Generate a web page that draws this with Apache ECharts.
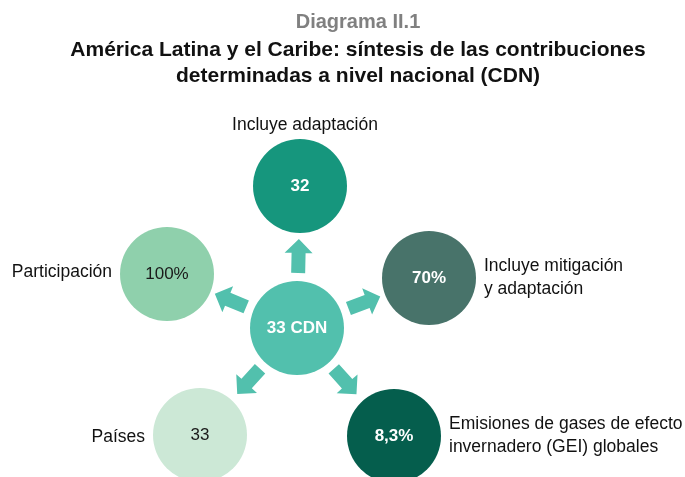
<!DOCTYPE html>
<html>
<head>
<meta charset="utf-8">
<script src="https://cdn.jsdelivr.net/npm/echarts@6/dist/echarts.min.js"></script>
<style>
  html, body { margin: 0; padding: 0; background: #fff; }
  #chart { width: 685px; height: 477px; }
</style>
</head>
<body>
<div id="chart"></div>
<script>
// diagram content
const centerLabel = '33 CDN'
const nodeNames = ['Incluye adaptación', 'Incluye mitigación\ny adaptación', 'Emisiones de gases de efecto\ninvernadero (GEI) globales', 'Países', 'Participación']
const nodeValues = ['32', '70%', '8,3%', '33', '100%']

// layout (pixel space, the axes below map 1:1 to the canvas)
const centerPos = [297, 328]
const nodeX = [300, 429, 394, 200, 167]
const nodeY = [186, 278, 436, 435, 274]
const namePos = ['top', 'right', 'right', 'left', 'left']
const nameOffset = [[5, 6], [0, 0], [0, 0], [0, 2], [0, -2]]
const nodeColors = ['#16967d', '#48736a', '#055e4d', '#cce8d6', '#8fd0ac']
const valueColors = ['#fff', '#fff', '#fff', '#1a1a1a', '#1a1a1a']
const valueBold = [true, true, true, false, false]

const R = 47
const fontFamily = 'Liberation Sans, Arial, sans-serif'

var chart = echarts.init(document.getElementById('chart'))

var circleData = nodeValues.map(function (v, i) {
  return {
    value: [nodeX[i], nodeY[i]],
    itemStyle: { color: nodeColors[i] },
    label: {
      formatter: v,
      color: valueColors[i],
      fontWeight: valueBold[i] ? 'bold' : 'normal'
    }
  }
})
circleData.push({
  value: centerPos,
  itemStyle: { color: '#52c0ad' },
  label: { formatter: centerLabel, color: '#fff', fontWeight: 'bold', fontSize: 17 }
})

var nameData = nodeNames.map(function (n, i) {
  return {
    value: [nodeX[i], nodeY[i]],
    label: { formatter: n, position: namePos[i], offset: nameOffset[i] }
  }
})

var arrowData = nodeX.map(function (x, i) {
  return [centerPos[0], centerPos[1], x, nodeY[i]]
})

chart.setOption({
  animation: false,
  title: [{
    text: 'Diagrama II.1',
    left: 353,
    top: 7,
    textAlign: 'center',
    textStyle: { color: '#808080', fontSize: 20, fontWeight: 'bold', fontFamily: fontFamily }
  }, {
    text: 'América Latina y el Caribe: síntesis de las contribuciones\ndeterminadas a nivel nacional (CDN)',
    left: 353,
    top: 32,
    textAlign: 'center',
    textStyle: { color: '#111', fontSize: 21, fontWeight: 'bold', lineHeight: 26, fontFamily: fontFamily }
  }],
  grid: { left: 0, right: 0, top: 0, bottom: 0 },
  xAxis: { type: 'value', min: 0, max: 685, show: false },
  yAxis: { type: 'value', min: 0, max: 477, inverse: true, show: false },
  series: [{
    type: 'custom',
    data: arrowData,
    renderItem: function (params, api) {
      var c = api.coord([api.value(0), api.value(1)])
      var t = api.coord([api.value(2), api.value(3)])
      var dx = t[0] - c[0], dy = t[1] - c[1]
      var len = Math.sqrt(dx * dx + dy * dy)
      var ux = dx / len, uy = dy / len
      var px = -uy, py = ux
      function pt(d, w) { return [c[0] + ux * d + px * w, c[1] + uy * d + py * w] }
      return {
        type: 'polygon',
        shape: {
          points: [pt(55, -7), pt(75, -7), pt(75, -14), pt(89, 0), pt(75, 14), pt(75, 7), pt(55, 7)]
        },
        style: { fill: '#52c0ad' }
      }
    },
    silent: true
  }, {
    type: 'scatter',
    symbolSize: R * 2,
    itemStyle: { opacity: 1 },
    data: circleData,
    label: { show: true, position: 'inside', fontSize: 17, fontFamily: fontFamily },
    silent: true
  }, {
    type: 'scatter',
    symbolSize: R * 2,
    itemStyle: { color: 'rgba(0,0,0,0)', opacity: 1 },
    data: nameData,
    label: {
      show: true, distance: 8, fontSize: 17.5, lineHeight: 23,
      color: '#111', fontFamily: fontFamily
    },
    silent: true
  }]
})
</script>
</body>
</html>
